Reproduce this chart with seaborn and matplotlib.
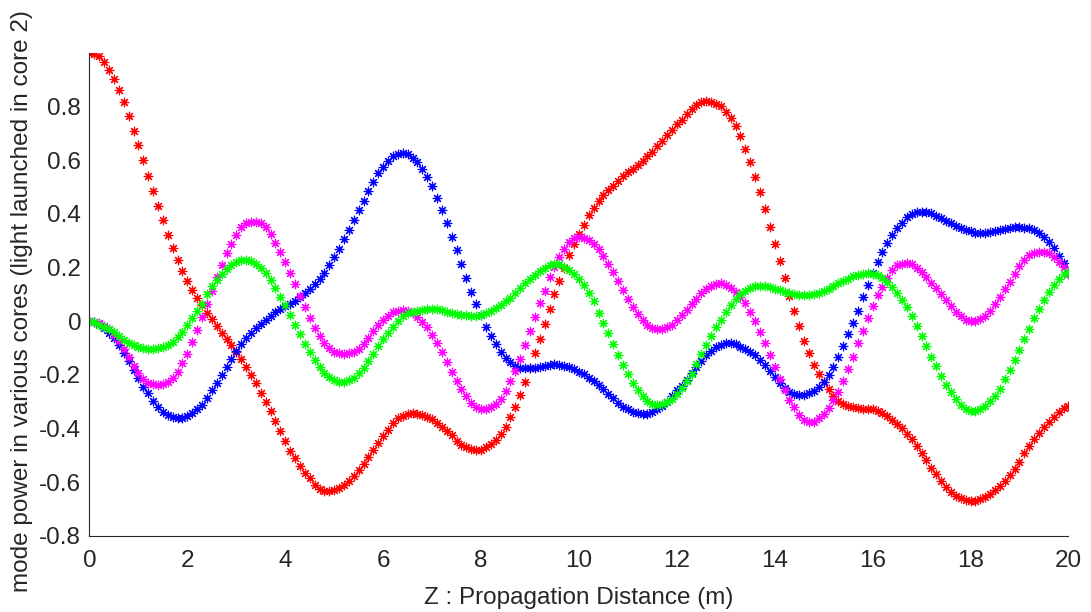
import numpy as np
import pandas as pd
import matplotlib
matplotlib.use("Agg")
import matplotlib.pyplot as plt
import seaborn as sns

# propagation distance samples (m), step 0.1
z = np.round(np.linspace(0, 20, 201), 1)

# mode power, one list per core
red = [
    1.000, 0.998, 0.988, 0.967, 0.938, 0.904, 0.863, 0.817, 0.766, 0.710,
    0.658, 0.601, 0.543, 0.487, 0.428, 0.376, 0.322, 0.275, 0.229, 0.188,
    0.152, 0.115, 0.086, 0.061, 0.032, 0.010, -0.016, -0.042, -0.067, -0.088,
    -0.113, -0.142, -0.169, -0.200, -0.231, -0.266, -0.300, -0.333, -0.370, -0.408,
    -0.445, -0.482, -0.511, -0.538, -0.564, -0.585, -0.610, -0.626, -0.632, -0.633,
    -0.629, -0.623, -0.610, -0.594, -0.577, -0.555, -0.530, -0.505, -0.480, -0.455,
    -0.428, -0.405, -0.380, -0.362, -0.353, -0.346, -0.343, -0.344, -0.349, -0.355,
    -0.365, -0.378, -0.393, -0.408, -0.425, -0.445, -0.461, -0.470, -0.477, -0.480,
    -0.480, -0.470, -0.457, -0.443, -0.420, -0.393, -0.358, -0.318, -0.275, -0.225,
    -0.175, -0.119, -0.067, -0.010, 0.045, 0.100, 0.151, 0.200, 0.248, 0.288,
    0.326, 0.360, 0.395, 0.422, 0.449, 0.469, 0.490, 0.506, 0.524, 0.540,
    0.556, 0.569, 0.581, 0.596, 0.615, 0.631, 0.652, 0.671, 0.693, 0.714,
    0.735, 0.751, 0.773, 0.793, 0.807, 0.817, 0.820, 0.817, 0.810, 0.801,
    0.780, 0.758, 0.727, 0.689, 0.642, 0.592, 0.539, 0.483, 0.419, 0.353,
    0.288, 0.223, 0.161, 0.095, 0.037, -0.017, -0.073, -0.117, -0.163, -0.196,
    -0.225, -0.253, -0.278, -0.296, -0.308, -0.316, -0.321, -0.324, -0.326, -0.327,
    -0.328, -0.333, -0.340, -0.353, -0.368, -0.383, -0.399, -0.420, -0.439, -0.465,
    -0.490, -0.517, -0.546, -0.569, -0.594, -0.617, -0.635, -0.651, -0.660, -0.666,
    -0.669, -0.669, -0.664, -0.654, -0.644, -0.629, -0.614, -0.594, -0.573, -0.551,
    -0.523, -0.492, -0.465, -0.440, -0.415, -0.393, -0.374, -0.356, -0.337, -0.322,
    -0.314,
]

blue = [
    0.000, -0.003, -0.011, -0.026, -0.042, -0.063, -0.088, -0.117, -0.148, -0.181,
    -0.212, -0.244, -0.268, -0.297, -0.318, -0.337, -0.349, -0.355, -0.359, -0.359,
    -0.353, -0.343, -0.327, -0.310, -0.285, -0.257, -0.229, -0.200, -0.171, -0.141,
    -0.110, -0.083, -0.063, -0.043, -0.026, -0.011, 0.005, 0.021, 0.033, 0.045,
    0.057, 0.066, 0.077, 0.092, 0.105, 0.120, 0.138, 0.157, 0.179, 0.210,
    0.239, 0.270, 0.306, 0.341, 0.378, 0.416, 0.449, 0.484, 0.519, 0.553,
    0.577, 0.596, 0.615, 0.625, 0.627, 0.623, 0.610, 0.592, 0.567, 0.539,
    0.503, 0.459, 0.416, 0.366, 0.316, 0.264, 0.213, 0.161, 0.111, 0.066,
    0.022, -0.021, -0.055, -0.084, -0.113, -0.135, -0.150, -0.166, -0.173, -0.175,
    -0.175, -0.173, -0.169, -0.166, -0.163, -0.160, -0.162, -0.165, -0.171, -0.179,
    -0.188, -0.197, -0.210, -0.222, -0.237, -0.253, -0.271, -0.287, -0.303, -0.318,
    -0.328, -0.337, -0.342, -0.344, -0.344, -0.337, -0.327, -0.315, -0.300, -0.278,
    -0.256, -0.240, -0.219, -0.194, -0.171, -0.148, -0.127, -0.109, -0.097, -0.087,
    -0.082, -0.081, -0.086, -0.094, -0.104, -0.114, -0.127, -0.144, -0.164, -0.186,
    -0.209, -0.229, -0.248, -0.262, -0.271, -0.275, -0.275, -0.268, -0.259, -0.244,
    -0.225, -0.200, -0.169, -0.132, -0.092, -0.047, -0.005, 0.040, 0.090, 0.136,
    0.179, 0.220, 0.258, 0.293, 0.322, 0.347, 0.366, 0.387, 0.401, 0.407,
    0.409, 0.407, 0.402, 0.393, 0.385, 0.375, 0.366, 0.357, 0.348, 0.341,
    0.335, 0.331, 0.330, 0.330, 0.332, 0.336, 0.340, 0.344, 0.347, 0.350,
    0.350, 0.348, 0.346, 0.340, 0.331, 0.315, 0.295, 0.273, 0.245, 0.217,
    0.185,
]

magenta = [
    0.000, -0.002, -0.007, -0.017, -0.030, -0.050, -0.075, -0.103, -0.134, -0.165,
    -0.193, -0.215, -0.229, -0.235, -0.236, -0.232, -0.225, -0.210, -0.187, -0.157,
    -0.120, -0.078, -0.031, 0.017, 0.065, 0.113, 0.167, 0.210, 0.254, 0.289,
    0.322, 0.350, 0.366, 0.372, 0.372, 0.365, 0.350, 0.325, 0.291, 0.258,
    0.220, 0.179, 0.138, 0.096, 0.053, 0.012, -0.024, -0.054, -0.082, -0.100,
    -0.113, -0.119, -0.122, -0.119, -0.113, -0.102, -0.084, -0.061, -0.037, -0.015,
    0.005, 0.021, 0.033, 0.040, 0.041, 0.039, 0.030, 0.017, -0.002, -0.023,
    -0.050, -0.081, -0.114, -0.151, -0.188, -0.221, -0.252, -0.280, -0.303, -0.319,
    -0.328, -0.328, -0.319, -0.307, -0.290, -0.261, -0.224, -0.186, -0.140, -0.089,
    -0.036, 0.016, 0.067, 0.114, 0.164, 0.204, 0.240, 0.271, 0.295, 0.309,
    0.314, 0.311, 0.304, 0.290, 0.269, 0.244, 0.215, 0.183, 0.150, 0.117,
    0.085, 0.054, 0.028, 0.005, -0.012, -0.025, -0.030, -0.028, -0.023, -0.012,
    0.004, 0.023, 0.043, 0.064, 0.085, 0.105, 0.121, 0.133, 0.140, 0.141,
    0.136, 0.125, 0.108, 0.090, 0.068, 0.036, 0.000, -0.040, -0.082, -0.125,
    -0.171, -0.216, -0.256, -0.293, -0.321, -0.349, -0.368, -0.377, -0.374, -0.362,
    -0.346, -0.324, -0.293, -0.262, -0.221, -0.179, -0.132, -0.082, -0.035, 0.012,
    0.057, 0.097, 0.128, 0.163, 0.193, 0.209, 0.215, 0.217, 0.212, 0.200,
    0.184, 0.166, 0.144, 0.123, 0.101, 0.079, 0.057, 0.035, 0.018, 0.006,
    0.001, 0.001, 0.008, 0.021, 0.040, 0.064, 0.090, 0.120, 0.148, 0.178,
    0.208, 0.230, 0.247, 0.254, 0.258, 0.258, 0.253, 0.239, 0.221, 0.202,
    0.176,
]

green = [
    0.000, -0.004, -0.012, -0.021, -0.030, -0.041, -0.056, -0.069, -0.079, -0.089,
    -0.096, -0.101, -0.104, -0.104, -0.101, -0.096, -0.089, -0.076, -0.060, -0.041,
    -0.014, 0.013, 0.040, 0.065, 0.101, 0.133, 0.154, 0.176, 0.194, 0.210,
    0.222, 0.228, 0.228, 0.223, 0.213, 0.200, 0.179, 0.154, 0.126, 0.092,
    0.060, 0.022, -0.012, -0.046, -0.086, -0.115, -0.144, -0.170, -0.191, -0.207,
    -0.219, -0.225, -0.225, -0.220, -0.210, -0.194, -0.174, -0.149, -0.122, -0.093,
    -0.067, -0.042, -0.020, 0.003, 0.019, 0.031, 0.036, 0.038, 0.043, 0.046,
    0.047, 0.045, 0.041, 0.036, 0.031, 0.028, 0.025, 0.023, 0.021, 0.021,
    0.025, 0.031, 0.040, 0.050, 0.061, 0.074, 0.087, 0.104, 0.123, 0.142,
    0.159, 0.174, 0.188, 0.200, 0.209, 0.214, 0.212, 0.203, 0.192, 0.177,
    0.158, 0.136, 0.105, 0.074, 0.032, -0.005, -0.043, -0.086, -0.124, -0.163,
    -0.198, -0.229, -0.256, -0.278, -0.297, -0.307, -0.312, -0.309, -0.301, -0.288,
    -0.271, -0.247, -0.221, -0.195, -0.159, -0.123, -0.087, -0.056, -0.023, 0.006,
    0.035, 0.060, 0.084, 0.102, 0.113, 0.126, 0.132, 0.133, 0.131, 0.127,
    0.122, 0.115, 0.110, 0.105, 0.101, 0.098, 0.098, 0.098, 0.101, 0.105,
    0.112, 0.120, 0.130, 0.141, 0.151, 0.159, 0.168, 0.174, 0.178, 0.181,
    0.178, 0.171, 0.160, 0.145, 0.127, 0.105, 0.080, 0.054, 0.020, -0.016,
    -0.054, -0.092, -0.132, -0.166, -0.204, -0.237, -0.265, -0.290, -0.312, -0.327,
    -0.333, -0.334, -0.328, -0.316, -0.297, -0.278, -0.252, -0.216, -0.181, -0.144,
    -0.107, -0.067, -0.029, 0.012, 0.046, 0.078, 0.109, 0.136, 0.158, 0.176,
    0.185,
]

series = {"red": red, "blue": blue, "magenta": magenta, "green": green}
colors = {"red": "#ff0000", "blue": "#0000ff", "magenta": "#ff00ff", "green": "#00ff00"}

sns.set_style("white")
plt.rcParams["font.family"] = ["Liberation Sans", "DejaVu Sans"]
plt.rcParams["axes.unicode_minus"] = False

fig = plt.figure(figsize=(10.91, 6.12), dpi=100)
ax = fig.add_axes([0.0820, 0.1242, 0.8973, 0.7892])

asterisk = (8, 2, 0)
for name, vals in series.items():
    df = pd.DataFrame({"z": z, "power": vals})
    sns.lineplot(data=df, x="z", y="power", ax=ax, color=colors[name],
                 linestyle="", marker=asterisk, markersize=6.8,
                 markeredgewidth=0.85, markeredgecolor=colors[name],
                 estimator=None, sort=False)

ax.set_xlim(0, 20)
ax.set_ylim(-0.8, 1.0)
ax.set_xticks(np.arange(0, 21, 2))
ax.set_yticks(np.round(np.arange(-0.8, 0.81, 0.2), 1))
ax.set_yticklabels(["-0.8", "-0.6", "-0.4", "-0.2", "0", "0.2", "0.4", "0.6", "0.8"])

grey = "#262626"
for side in ["top", "right"]:
    ax.spines[side].set_visible(False)
for side in ["left", "bottom"]:
    ax.spines[side].set_color(grey)
    ax.spines[side].set_linewidth(0.8)

ax.tick_params(axis="both", direction="in", length=7, width=0.8, color=grey,
               labelcolor=grey, labelsize=17.5)
ax.tick_params(axis="x", pad=10)
ax.tick_params(axis="y", pad=6)

ax.set_xlabel("Z : Propagation Distance (m)", fontsize=17.5, color=grey, labelpad=11)
# the reference figure clips the top of this label, kept the same way
ax.set_ylabel("mode power in various cores (light launched in core 2)",
              fontsize=17.5, color=grey)
ax.yaxis.label.set_ha("left")
ax.yaxis.label.set_va("center")
ax.yaxis.set_label_coords(-0.069, -0.116)

fig.savefig("out.png", dpi=100)
